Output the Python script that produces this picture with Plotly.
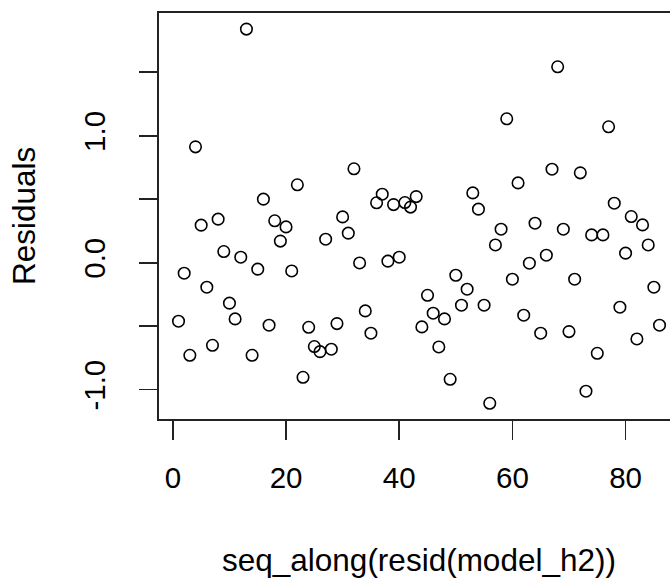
import plotly.graph_objects as go

# Residuals by observation index (seq_along(resid(model_h2)))
index = list(range(1, 87))
residuals = [
    -0.461, -0.083, -0.730, 0.913, 0.296, -0.193, -0.651, 0.343, 0.088, -0.319,
    -0.443, 0.043, 1.841, -0.730, -0.051, 0.501, -0.493, 0.330, 0.170, 0.282,
    -0.065, 0.614, -0.903, -0.509, -0.661, -0.701, 0.185, -0.682, -0.480, 0.361,
    0.233, 0.740, -0.002, -0.380, -0.556, 0.472, 0.540, 0.012, 0.458, 0.043,
    0.474, 0.438, 0.521, -0.506, -0.257, -0.398, -0.664, -0.443, -0.919, -0.099,
    -0.335, -0.209, 0.550, 0.422, -0.335, -1.108, 0.140, 0.264, 1.134, -0.130,
    0.629, -0.414, -0.004, 0.311, -0.556, 0.059, 0.737, 1.544, 0.264, -0.543,
    -0.130, 0.708, -1.013, 0.219, -0.714, 0.219, 1.071, 0.469, -0.351, 0.075,
    0.364, -0.601, 0.298, 0.140, -0.193, -0.493,
]

x_tickvals = [0, 20, 40, 60, 80]
x_ticktext = ["0", "20", "40", "60", "80"]
y_tickvals = [-1.0, -0.5, 0.0, 0.5, 1.0, 1.5]
y_ticktext = ["-1.0", "", "0.0", "", "1.0", ""]

x_label = "seq_along(resid(model_h2))"
y_label = "Residuals"

FONT = "Liberation Sans, Arial, sans-serif"
FS_TICK = 29.5
FS_LAB = 31.5

W, H = 670, 579
L, R, T, B = 159, 0, 13, 160
plot_w = W - L - R
plot_h = H - T - B

fig = go.Figure()
fig.add_trace(go.Scatter(
    x=index, y=residuals, mode="markers",
    marker=dict(symbol="circle-open", size=11.5, color="black",
                line=dict(width=1.6, color="black")),
    showlegend=False, cliponaxis=False, hoverinfo="skip",
))

fig.update_layout(
    width=W, height=H,
    margin=dict(l=L, r=R, t=T, b=B, pad=0),
    paper_bgcolor="white", plot_bgcolor="white",
    font=dict(family=FONT, size=FS_TICK, color="black"),
    xaxis=dict(
        range=[-2.45, 87.85], tickvals=x_tickvals, ticktext=x_ticktext,
        showgrid=False, zeroline=False, showline=True, linecolor="#222",
        linewidth=1.8, mirror=True, ticks="outside", ticklen=19,
        tickwidth=1.8, tickcolor="#222", ticklabelstandoff=13,
        tickfont=dict(family=FONT, size=FS_TICK, color="black"),
    ),
    yaxis=dict(
        range=[-1.232, 1.968], tickvals=y_tickvals, ticktext=y_ticktext,
        showgrid=False, zeroline=False, showline=True, linecolor="#222",
        linewidth=1.8, mirror=False, ticks="outside", ticklen=18,
        tickwidth=1.8, tickcolor="#222", tickangle=-90, ticklabelstandoff=22,
        tickfont=dict(family=FONT, size=FS_TICK, color="black"),
    ),
    annotations=[
        dict(text=x_label, xref="x", yref="paper", x=43.5,
             y=(419 - 560) / plot_h, xanchor="center", yanchor="middle",
             showarrow=False, font=dict(family=FONT, size=FS_LAB, color="black")),
        dict(text=y_label, xref="paper", yref="paper", x=(24 - L) / plot_w,
             y=0.5, xanchor="center", yanchor="middle", textangle=-90,
             showarrow=False, font=dict(family=FONT, size=FS_LAB, color="black")),
    ],
)

fig.write_html(
    "out.html",
    config={"displayModeBar": False, "staticPlot": True},
    post_script="document.body.style.margin='0';document.body.style.overflow='hidden';",
)
